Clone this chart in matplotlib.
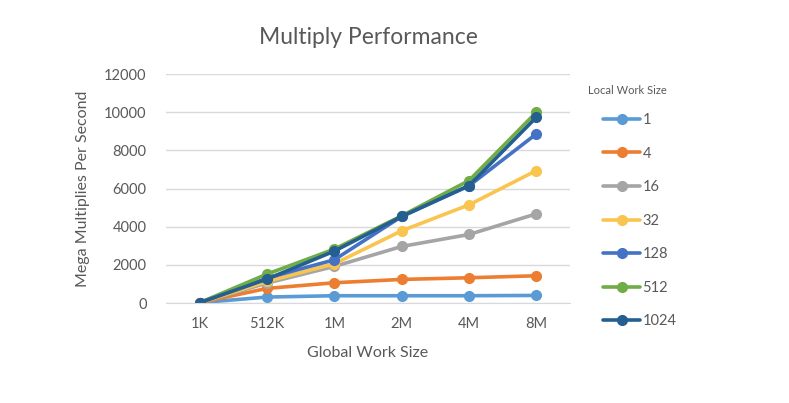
import matplotlib
matplotlib.use("Agg")
import matplotlib.pyplot as plt

plt.rcParams["font.family"] = ["Lato", "DejaVu Sans"]

# data
global_sizes = ["1K", "512K", "1M", "2M", "4M", "8M"]
local_sizes = ["1", "4", "16", "32", "128", "512", "1024"]
colors = ["#5B9BD5", "#ED7D31", "#A5A5A5", "#F9C54E", "#4472C4", "#70AD47", "#255E91"]

ls_1 = [20, 314, 384, 384, 384, 400]
ls_4 = [20, 768, 1064, 1239, 1326, 1431]
ls_16 = [20, 1047, 1920, 2967, 3595, 4677]
ls_32 = [20, 1134, 2059, 3787, 5148, 6946]
ls_128 = [20, 1309, 2269, 4538, 6143, 8866]
ls_512 = [20, 1518, 2827, 4572, 6422, 10000]
ls_1024 = [20, 1257, 2722, 4538, 6160, 9738]
series = [ls_1, ls_4, ls_16, ls_32, ls_128, ls_512, ls_1024]

text_col = "#595959"
W, H = 789, 403

fig = plt.figure(figsize=(W / 100, H / 100), dpi=100)
ax = fig.add_axes([0.2104, 0.248, 0.512, 0.568])

x = range(len(global_sizes))
for vals, lab, col in zip(series, local_sizes, colors):
    ax.plot(x, vals, color=col, lw=2.6, marker="o", markersize=7, label=lab,
            solid_capstyle="round")

ax.set_xlim(-0.5, len(global_sizes) - 0.5)
ax.set_ylim(0, 12000)
ax.set_yticks(range(0, 12001, 2000))
ax.set_xticks(list(x))
ax.set_xticklabels(global_sizes)
ax.grid(axis="y", color="#D9D9D9", lw=1)
ax.set_axisbelow(True)
for s in ["top", "right", "left"]:
    ax.spines[s].set_visible(False)
ax.spines["bottom"].set_color("#D9D9D9")
ax.tick_params(axis="both", length=0, labelsize=10.5, colors=text_col)
ax.tick_params(axis="x", pad=10)
ax.tick_params(axis="y", pad=14)

ax.set_title("Multiply Performance", fontsize=16.5, color=text_col, pad=22)
ax.set_xlabel("Global Work Size", fontsize=11.5, color=text_col, labelpad=11)
ax.set_ylabel("Mega Multiplies Per Second", fontsize=11.5, color=text_col, labelpad=10)

# legend title placed on its own, entries are indented under it
fig.text(588 / W, 1 - 91 / H, "Local Work Size", fontsize=8, color=text_col,
         ha="left", va="center")
leg = fig.legend(*ax.get_legend_handles_labels(), loc="upper left",
                 bbox_to_anchor=(603 / W, 1 - 113 / H),
                 frameon=False, fontsize=10.5, handlelength=2.55, labelspacing=1.34,
                 handletextpad=0.15, borderpad=0, borderaxespad=0)
for t in leg.get_texts():
    t.set_color(text_col)

fig.savefig("out.png", dpi=100)
